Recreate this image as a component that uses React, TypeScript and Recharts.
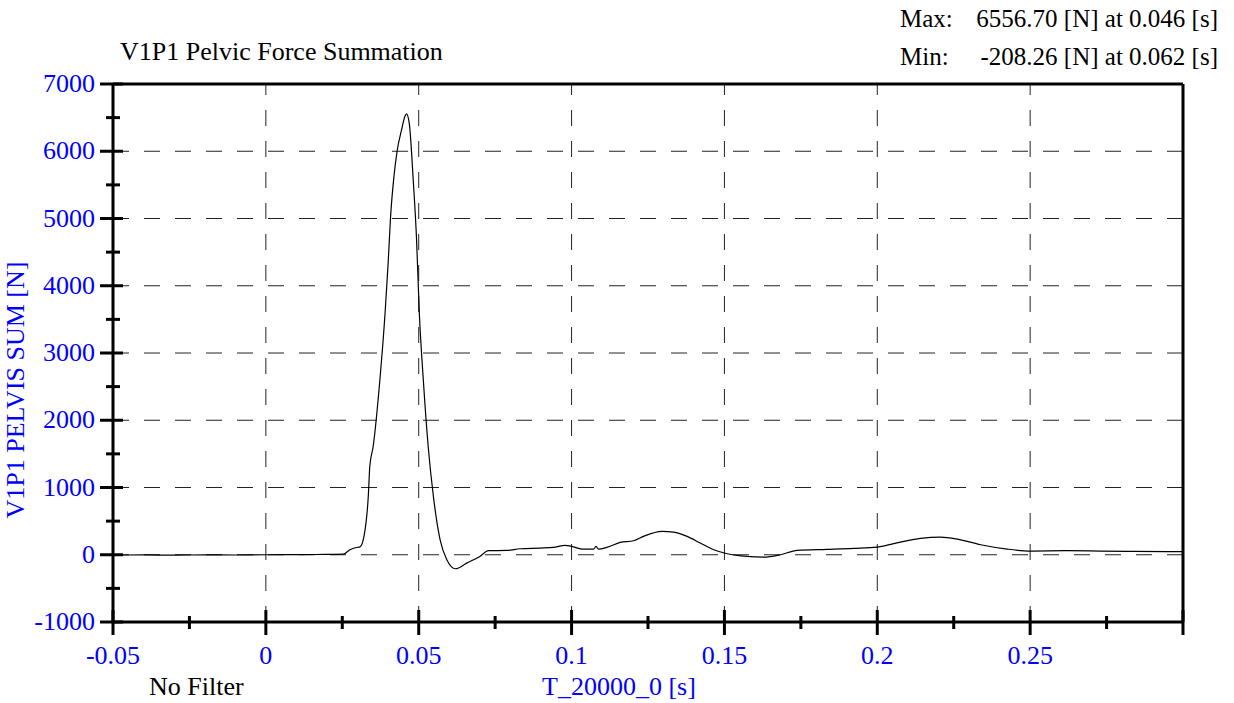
import React from "react";
import { LineChart, Line, XAxis, YAxis, ReferenceLine } from "recharts";

// sampled off the trace: time [s] / pelvic force sum [N]
const TIME_S = [
  -0.05, -0.04, -0.03, -0.02, -0.01, 0, 0.01, 0.02, 0.0253, 0.0275,
  0.03, 0.0308, 0.0322, 0.0335, 0.034, 0.0351, 0.0373, 0.039, 0.04, 0.0408,
  0.0419, 0.043, 0.0444, 0.0455, 0.046, 0.0469, 0.0482, 0.0493, 0.0502, 0.0515,
  0.0531, 0.0548, 0.057, 0.0592, 0.062, 0.0657, 0.07, 0.0728, 0.0788, 0.0832,
  0.0897, 0.0941, 0.0979, 0.1001, 0.1034, 0.1072, 0.108, 0.1088, 0.1115, 0.1159,
  0.1203, 0.1235, 0.1296, 0.1334, 0.1378, 0.1421, 0.1465, 0.1509, 0.1574, 0.1628,
  0.1683, 0.1738, 0.1836, 0.1923, 0.2, 0.2076, 0.2141, 0.2207, 0.2262, 0.2338,
  0.2425, 0.2502, 0.2622, 0.2731, 0.284, 0.2998,
];
const FORCE_N = [
  -5, -3, -6, -2, -4, 0, 2, 5, 8, 74,
  112, 118, 300, 867, 1313, 1610, 2602, 3594, 4337, 5031,
  5625, 6022, 6320, 6520, 6557, 6419, 5576, 4684, 3594, 2602,
  1610, 867, 223, -74, -208, -124, -25, 60, 64, 89,
  99, 109, 139, 124, 84, 84, 124, 84, 109, 183,
  208, 273, 347, 337, 273, 174, 74, 15, -25, -35,
  0, 64, 79, 94, 114, 188, 243, 263, 233, 149,
  84, 55, 60, 55, 50, 45,
];

const X_TICKS = [-0.05, -0.025, 0, 0.025, 0.05, 0.075, 0.1, 0.125, 0.15, 0.175, 0.2, 0.225, 0.25, 0.275, 0.3];
const X_GRID = [0, 0.05, 0.1, 0.15, 0.2, 0.25];
const Y_TICKS = [-1000, -500, 0, 500, 1000, 1500, 2000, 2500, 3000, 3500, 4000, 4500, 5000, 5500, 6000, 6500, 7000];
const Y_GRID = [0, 1000, 2000, 3000, 4000, 5000, 6000];

const data = TIME_S.map((t, i) => ({ t, f: FORCE_N[i] }));

const W = 1234;
const H = 703;
const FONT = "'Liberation Serif', 'Times New Roman', serif";
const BLUE = "#0000ff";
const FS = 26;

const isMajorY = (v: number) => v % 1000 === 0;
const isMajorX = (v: number) => Math.abs(Math.round(v * 20) - v * 20) < 1e-9;

function YTick(props: any) {
  const { x, y, payload } = props;
  const v = payload.value;
  const major = isMajorY(v);
  return (
    <g>
      <line x1={major ? x - 13 : x - 7} x2={major ? x + 10 : x + 7} y1={y} y2={y} stroke="#000" strokeWidth={3} />
      {major && (
        <text x={x - 18} y={y + 8} textAnchor="end" fill={BLUE} fontSize={FS} fontFamily={FONT}>
          {v}
        </text>
      )}
    </g>
  );
}

function XTick(props: any) {
  const { x, y, payload } = props;
  const v = payload.value;
  const major = isMajorX(v);
  const label = parseFloat(v.toFixed(3)).toString();
  return (
    <g>
      <line x1={x} x2={x} y1={major ? y - 12 : y - 6} y2={major ? y + 13 : y + 7} stroke="#000" strokeWidth={3} />
      {major && v < 0.29 && (
        <text x={x} y={y + 42} textAnchor="middle" fill={BLUE} fontSize={FS} fontFamily={FONT}>
          {label}
        </text>
      )}
    </g>
  );
}

export default function App() {
  return (
    <div style={{ position: "absolute", left: 0, top: 0, width: W, height: H, background: "#fff" }}>
      <LineChart width={W} height={H} data={data} margin={{ top: 84, right: 51, bottom: 0, left: 0 }}>
        <XAxis
          type="number"
          dataKey="t"
          domain={[-0.05, 0.3]}
          ticks={X_TICKS}
          allowDataOverflow
          height={81}
          tickSize={0}
          tickMargin={0}
          tickLine={false}
          axisLine={{ stroke: "#000", strokeWidth: 3 }}
          tick={<XTick />}
          interval={0}
        />
        <YAxis
          type="number"
          domain={[-1000, 7000]}
          ticks={Y_TICKS}
          allowDataOverflow
          width={113}
          tickSize={0}
          tickMargin={0}
          tickLine={false}
          axisLine={{ stroke: "#000", strokeWidth: 3 }}
          tick={<YTick />}
          interval={0}
        />
        {Y_GRID.map((v) => (
          <ReferenceLine key={"gy" + v} y={v} stroke="#222" strokeDasharray="16 15" strokeWidth={1} />
        ))}
        {X_GRID.map((v) => (
          <ReferenceLine key={"gx" + v} x={v} stroke="#222" strokeDasharray="16 15" strokeWidth={1} />
        ))}
        <ReferenceLine y={7000} stroke="#000" strokeWidth={3} />
        <ReferenceLine x={0.3} stroke="#000" strokeWidth={3} />
        <Line
          type="monotone"
          dataKey="f"
          stroke="#000"
          strokeWidth={1.2}
          dot={false}
          isAnimationActive={false}
        />
      </LineChart>
      <svg width={W} height={H} style={{ position: "absolute", left: 0, top: 0, pointerEvents: "none" }}>
        <g fontFamily={FONT} fontSize={FS}>
          <text x={120} y={60} fill="#000">V1P1 Pelvic Force Summation</text>
          <text x={900} y={27} fill="#000" fontSize={25}>Max:</text>
          <text x={1218} y={27} fill="#000" fontSize={25} textAnchor="end">6556.70 [N] at 0.046 [s]</text>
          <text x={900} y={65} fill="#000" fontSize={25}>Min:</text>
          <text x={1218} y={65} fill="#000" fontSize={25} textAnchor="end">-208.26 [N] at 0.062 [s]</text>
          <text x={149} y={695} fill="#000">No Filter</text>
          <text x={619} y={695} fill={BLUE} textAnchor="middle">T_20000_0 [s]</text>
          <text x={24} y={390} fill={BLUE} textAnchor="middle" transform="rotate(-90 24 390)">
            V1P1 PELVIS SUM [N]
          </text>
        </g>
      </svg>
    </div>
  );
}
